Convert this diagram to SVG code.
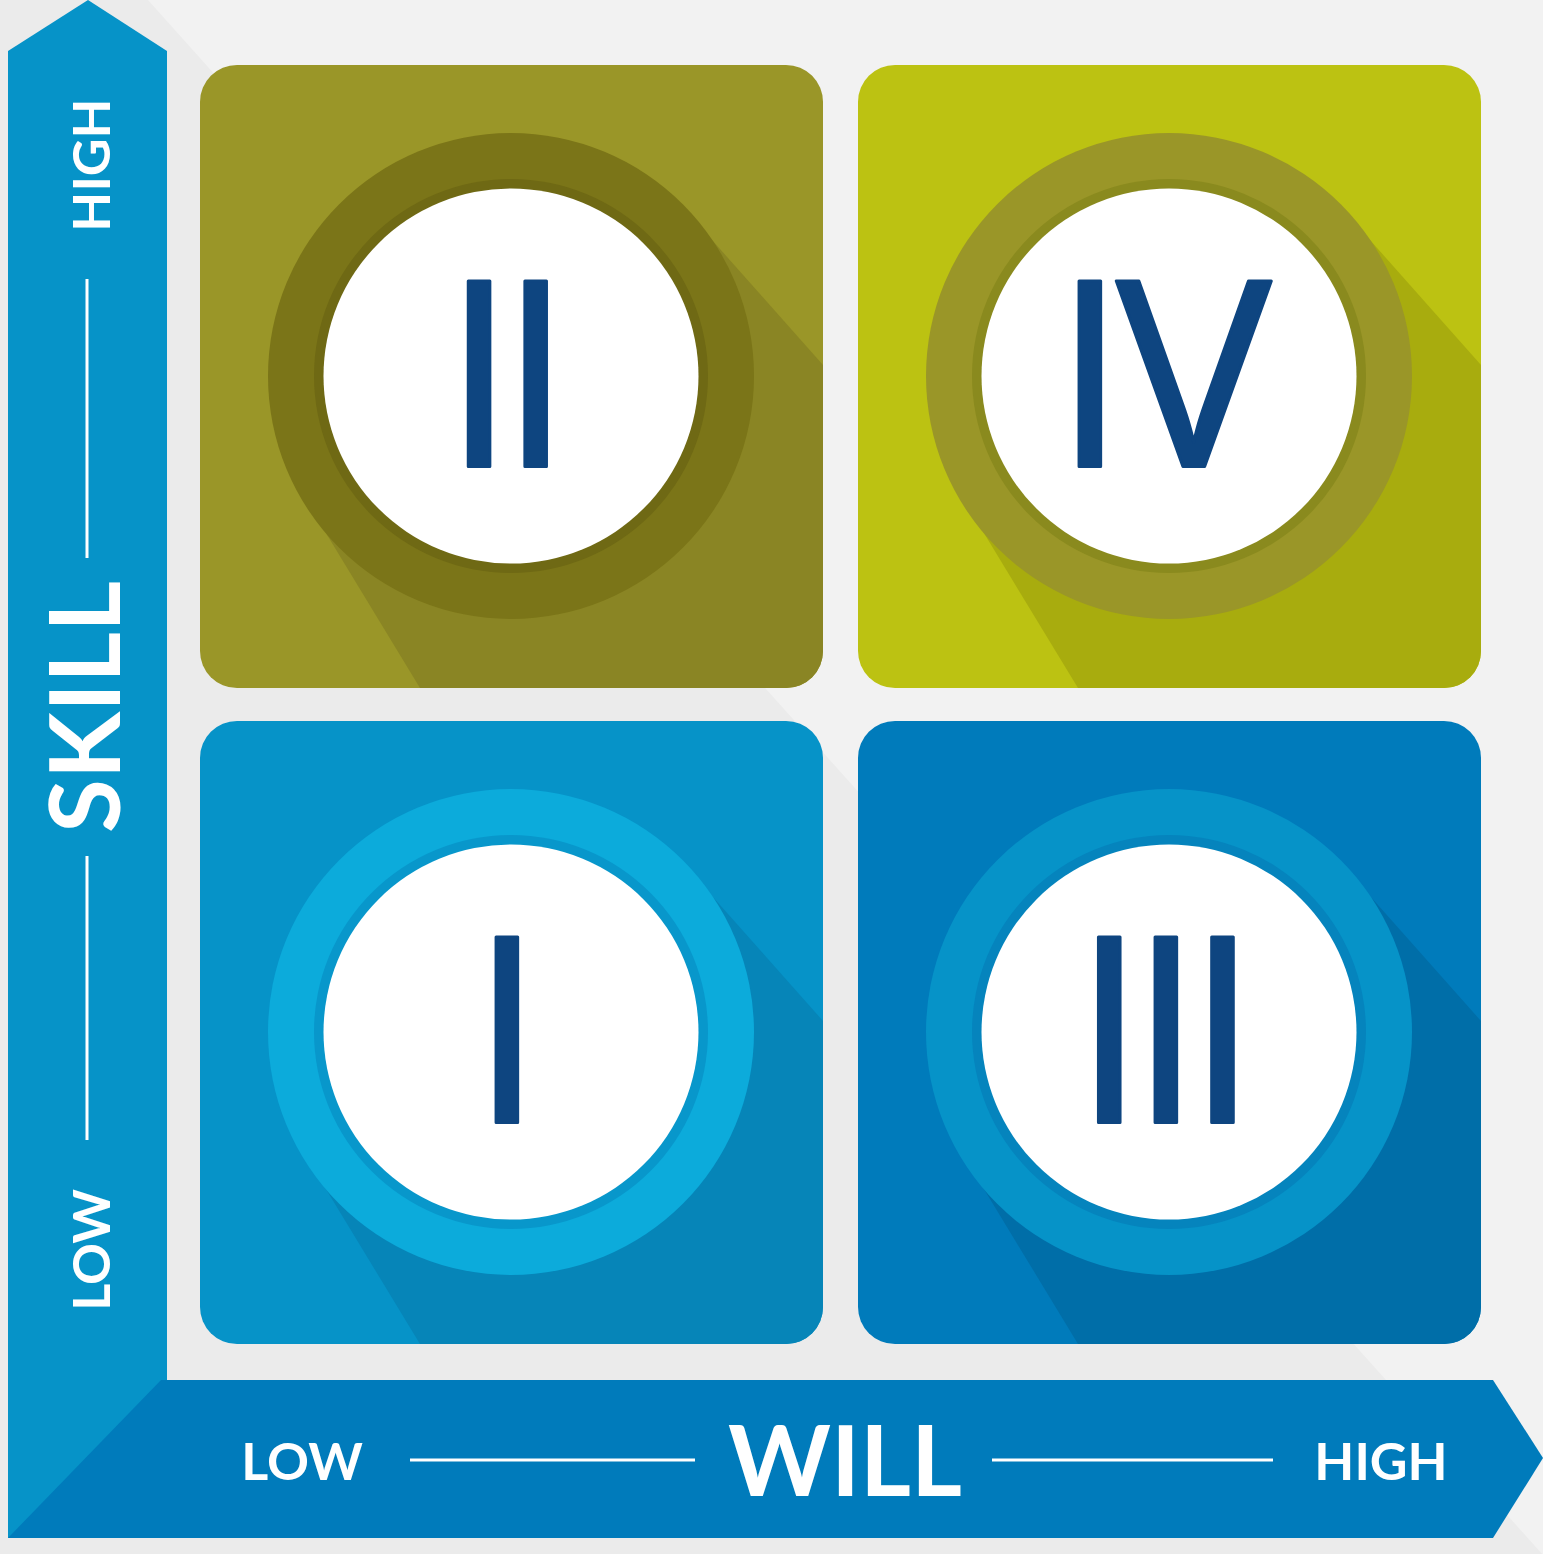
<svg xmlns="http://www.w3.org/2000/svg" width="1543" height="1554" viewBox="0 0 1543 1554">
<style>
.lbl{font-family:Lato,"Open Sans","Liberation Sans",sans-serif;font-weight:700;fill:#ffffff;text-anchor:middle}
.num{font-family:"Open Sans",Lato,"Liberation Sans",sans-serif;font-weight:400;fill:#0e4580;stroke:#0e4580;stroke-width:3;stroke-linejoin:round;font-size:260px;text-anchor:middle;letter-spacing:-16px}
.axisline{stroke:#ffffff;stroke-width:3;fill:none}
.white{fill:#ffffff}
</style>
<defs>
<clipPath id="tileClip"><rect x="0" y="0" width="623" height="623" rx="37" ry="37"/></clipPath>
<polygon id="shadowShape" points="512,175 623,300 623,623 220,623 118,455 311,311"/>
</defs>
<g id="background">
<rect x="0" y="0" width="1543" height="1554" fill="#f2f2f2"/>
<polygon points="0,0 148,0 1543,1555 0,1554" fill="#ebebeb"/>
</g>
<g id="tile-II" transform="translate(200,65)">
<g clip-path="url(#tileClip)">
<rect x="0" y="0" width="623" height="623" fill="#9a9628"/>
<use href="#shadowShape" fill="#8a8524"/>
</g>
<circle cx="311" cy="311" r="243" fill="#7b7518"/>
<circle cx="311" cy="311" r="197" fill="#6f6914"/>
<circle cx="311" cy="311" r="187.5" class="white"/>
<text class="num" x="299.5" y="401.5">II</text>
</g>
<g id="tile-IV" transform="translate(858,65)">
<g clip-path="url(#tileClip)">
<rect x="0" y="0" width="623" height="623" fill="#bcc212"/>
<use href="#shadowShape" fill="#a8ac0e"/>
</g>
<circle cx="311" cy="311" r="243" fill="#9a9628"/>
<circle cx="311" cy="311" r="197" fill="#8a8a1e"/>
<circle cx="311" cy="311" r="187.5" class="white"/>
<text class="num" x="299.5" y="401.5" style="letter-spacing:-10px">IV</text>
</g>
<g id="tile-I" transform="translate(200,721)">
<g clip-path="url(#tileClip)">
<rect x="0" y="0" width="623" height="623" fill="#0693c8"/>
<use href="#shadowShape" fill="#0685b8"/>
</g>
<circle cx="311" cy="311" r="243" fill="#0cabdb"/>
<circle cx="311" cy="311" r="197" fill="#0897cb"/>
<circle cx="311" cy="311" r="187.5" class="white"/>
<text class="num" x="299" y="401.5">I</text>
</g>
<g id="tile-III" transform="translate(858,721)">
<g clip-path="url(#tileClip)">
<rect x="0" y="0" width="623" height="623" fill="#007bbb"/>
<use href="#shadowShape" fill="#006ea8"/>
</g>
<circle cx="311" cy="311" r="243" fill="#0693c8"/>
<circle cx="311" cy="311" r="197" fill="#0584bd"/>
<circle cx="311" cy="311" r="187.5" class="white"/>
<text class="num" x="300" y="401.5">III</text>
</g>
<g id="skill-axis">
<polygon points="8,51 88,0 167,51 167,1538 8,1538" fill="#0693c8"/>
<text class="lbl" font-size="52" transform="translate(110,165) rotate(-90)">HIGH</text>
<line class="axisline" x1="87" y1="279" x2="87" y2="558"/>
<text class="lbl" font-size="98" transform="translate(120,707) rotate(-90)">SKILL</text>
<line class="axisline" x1="87" y1="856" x2="87" y2="1140"/>
<text class="lbl" font-size="52" transform="translate(110,1250) rotate(-90)">LOW</text>
</g>
<g id="will-axis">
<polygon points="8,1538 161,1380 1493,1380 1543,1458 1493,1538" fill="#007bbb"/>
<text class="lbl" font-size="52" x="302" y="1480">LOW</text>
<line class="axisline" x1="410" y1="1460" x2="695" y2="1460"/>
<text class="lbl" font-size="98" x="845" y="1496">WILL</text>
<line class="axisline" x1="992" y1="1460" x2="1273" y2="1460"/>
<text class="lbl" font-size="52" x="1381" y="1480">HIGH</text>
</g>
</svg>
